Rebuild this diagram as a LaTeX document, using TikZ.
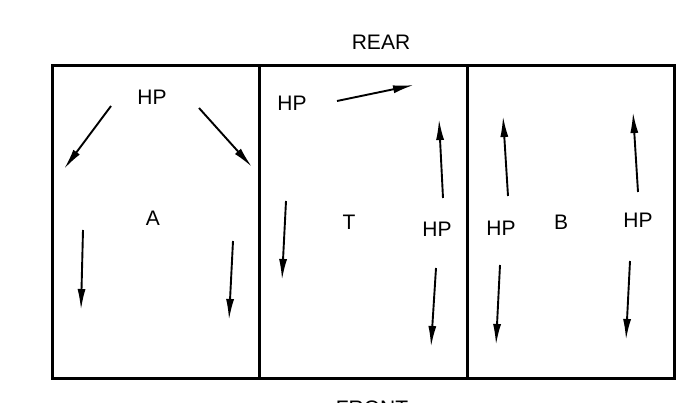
\documentclass[tikz,border=0pt]{standalone}
\usepackage{fontspec}
\setmainfont{Liberation Sans}
\usetikzlibrary{arrows.meta}
\begin{document}
\begin{tikzpicture}[x=1pt,y=-1pt,
  frame/.style={line width=3pt},
  lbl/.style={inner sep=0pt,font=\fontsize{21}{22}\selectfont},
  hparrow/.style={line width=1.9pt,-{Latex[length=21pt,width=8pt]}}]
\useasboundingbox (0,0) rectangle (688,403);
% frame
\coordinate (tl) at (52,66);
\coordinate (br) at (674,378);
\draw[frame] (tl) rectangle (br);
\coordinate (d1t) at (259,66); \coordinate (d1b) at (259,378);
\coordinate (d2t) at (467,66); \coordinate (d2b) at (467,378);
\draw[frame] (d1t) -- (d1b);
\draw[frame] (d2t) -- (d2b);
% titles
\node[lbl] (rear) at (381,42) {REAR};
\node[lbl] (front) at (372,408) {FRONT};
% panel A
\node[lbl] (hpA) at (152,97) {HP};
\node[lbl] (A) at (153,218) {A};
\coordinate (a1s) at (111,106); \coordinate (a1e) at (64,169);
\coordinate (a2s) at (199,108); \coordinate (a2e) at (252,167);
\coordinate (a3s) at (83,230);  \coordinate (a3e) at (81,310);
\coordinate (a4s) at (233,241); \coordinate (a4e) at (229,320);
\draw[hparrow] (a1s) -- (a1e);
\draw[hparrow] (a2s) -- (a2e);
\draw[hparrow] (a3s) -- (a3e);
\draw[hparrow] (a4s) -- (a4e);
% panel T
\node[lbl] (hpT1) at (292,103) {HP};
\node[lbl] (T) at (349,222) {T};
\node[lbl] (hpT2) at (437,229) {HP};
\coordinate (t1s) at (337,101); \coordinate (t1e) at (414,85);
\coordinate (t2s) at (443,198); \coordinate (t2e) at (439,119);
\coordinate (t3s) at (286,201); \coordinate (t3e) at (282,280);
\coordinate (t4s) at (436,268); \coordinate (t4e) at (431,347);
\draw[hparrow] (t1s) -- (t1e);
\draw[hparrow] (t2s) -- (t2e);
\draw[hparrow] (t3s) -- (t3e);
\draw[hparrow] (t4s) -- (t4e);
% panel B
\node[lbl] (hpB1) at (501,228) {HP};
\node[lbl] (B) at (561,222) {B};
\node[lbl] (hpB2) at (638,220) {HP};
\coordinate (b1s) at (508,196); \coordinate (b1e) at (503,116);
\coordinate (b2s) at (638,192); \coordinate (b2e) at (633,112);
\coordinate (b3s) at (500,265); \coordinate (b3e) at (496,345);
\coordinate (b4s) at (630,261); \coordinate (b4e) at (626,340);
\draw[hparrow] (b1s) -- (b1e);
\draw[hparrow] (b2s) -- (b2e);
\draw[hparrow] (b3s) -- (b3e);
\draw[hparrow] (b4s) -- (b4e);
\end{tikzpicture}
\end{document}
